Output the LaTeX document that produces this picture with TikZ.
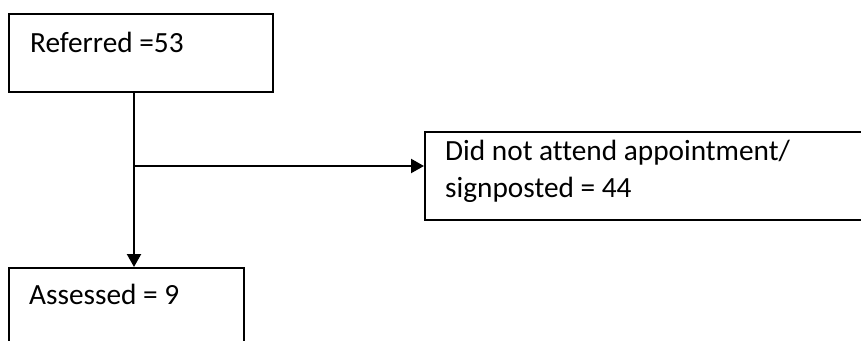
\documentclass[tikz,border=0pt]{standalone}
\usepackage{fontspec}
\setmainfont{Carlito}[Ligatures=NoCommon]
\usetikzlibrary{arrows.meta}
\begin{document}
\begin{tikzpicture}[x=1pt,y=-1pt,
  box/.style={draw=black, line width=1.6pt, rectangle, inner sep=0pt, anchor=north west},
  txt/.style={anchor=base west, inner sep=0pt, font=\fontsize{29.3}{37}\selectfont, align=left},
  conn/.style={draw=black, line width=2.2pt, -{Triangle[length=13pt,width=14pt]}}]
\clip (0,0) rectangle (861,340);
\fill[white] (0,0) rectangle (861,340);
\node[box, minimum width=264pt, minimum height=78pt] (r) at (8,13) {};
\node[box, minimum width=480pt, minimum height=88pt] (d) at (424,131) {};
\node[box, minimum width=235pt, minimum height=100pt] (a) at (8,267) {};
\node[txt] (rt) at ([xshift=22pt,yshift=-39pt]r.north west) {Referred =53};
\node[txt, anchor=north west] (dt) at ([xshift=21pt,yshift=-9pt]d.north west) {Did not attend appointment/\\signposted = 44};
\node[txt] (at) at ([xshift=21pt,yshift=-37pt]a.north west) {Assessed = 9};
\coordinate (j) at (134,166);
\draw[conn] (j |- r.south) -- (j |- a.north);
\draw[conn] (j) -- (d.west |- j);
\end{tikzpicture}
\end{document}
